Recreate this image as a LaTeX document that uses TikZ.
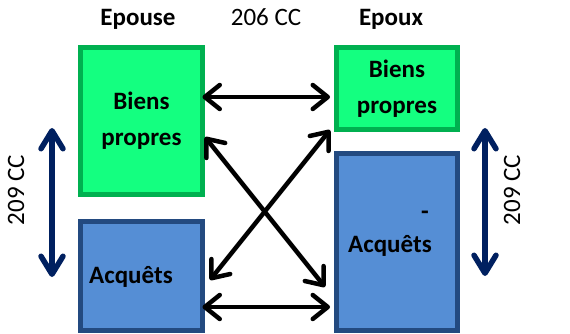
\documentclass[tikz,border=0pt]{standalone}
\usepackage{fontspec}
\setmainfont{Carlito}
\usetikzlibrary{arrows.meta}
\definecolor{gfill}{RGB}{20,255,128}
\definecolor{gline}{RGB}{0,176,80}
\definecolor{bfill}{RGB}{85,142,213}
\definecolor{bline}{RGB}{35,74,128}
\definecolor{navy}{RGB}{0,32,96}
\begin{document}
\begin{tikzpicture}[x=1pt,y=-1pt,
 box/.style={draw, line width=5pt, outer sep=0pt, inner sep=0pt, align=center,
   font=\fontsize{25}{36}\selectfont\bfseries},
 gbox/.style={box, fill=gfill, draw=gline},
 bbox/.style={box, fill=bfill, draw=bline},
 lbl/.style={font=\fontsize{25}{30}\selectfont, inner sep=0pt},
 blbl/.style={lbl, font=\fontsize{25}{30}\selectfont\bfseries},
 dbl/.style={line width=4.5pt, {Straight Barb[length=15pt,width=24pt,round]}-{Straight Barb[length=15pt,width=24pt,round]}},
 nav/.style={line width=5.5pt, draw=navy, {Straight Barb[length=18pt,width=22pt,round]}-{Straight Barb[length=18pt,width=22pt,round]}}
]
\useasboundingbox[fill=white] (0,0) rectangle (570,334);
% boxes
\node[gbox, minimum width=122pt, minimum height=147pt] (lg) at (141.5,121) {Biens\\propres};
\node[gbox, minimum width=121pt, minimum height=82pt] (rg) at (397,88.5) {Biens\\propres};
\node[bbox, minimum width=122pt, minimum height=109pt] (lb) at (141.5,276) {};
\node[bbox, minimum width=121pt, minimum height=177pt] (rb) at (397,242) {};
% texts
\node[blbl, anchor=base west] (acql) at (89,283) {Acquêts};
\node[blbl, anchor=base west] (acqr) at (348,252) {Acquêts};
\node[blbl] (dash) at (425,215) {-};
\node[blbl, anchor=base] (epouse) at (138,26) {Epouse};
\node[lbl, anchor=base] (cc206) at (266,26) {206 CC};
\node[blbl, anchor=base] (epoux) at (391,26) {Epoux};
\node[lbl, rotate=90] (cc209l) at (16,190) {209 CC};
\node[lbl, rotate=90] (cc209r) at (512,190) {209 CC};
% black arrows
\draw[dbl] ([yshift=24pt]lg.east) -- ([xshift=-6.5pt,yshift=-8.5pt]rg.west);
\draw[dbl] ([yshift=-31pt]lb.east) -- ([xshift=-6.5pt,yshift=-65pt]rb.west);
\draw[dbl] ([xshift=2.5pt,yshift=-16pt]lg.east) -- ([xshift=-11.5pt,yshift=-45pt]rb.west);
\draw[dbl] ([xshift=-6.5pt,yshift=-0.5pt]rg.south west) -- ([xshift=7.5pt,yshift=-4pt]lb.east);
% navy arrows
\coordinate (lt) at (52,128); \coordinate (lbt) at (52,277);
\coordinate (rt) at (485,128); \coordinate (rbt) at (485,276);
\draw[nav] (lt) -- (lbt);
\draw[nav] (rt) -- (rbt);
\end{tikzpicture}
\end{document}
